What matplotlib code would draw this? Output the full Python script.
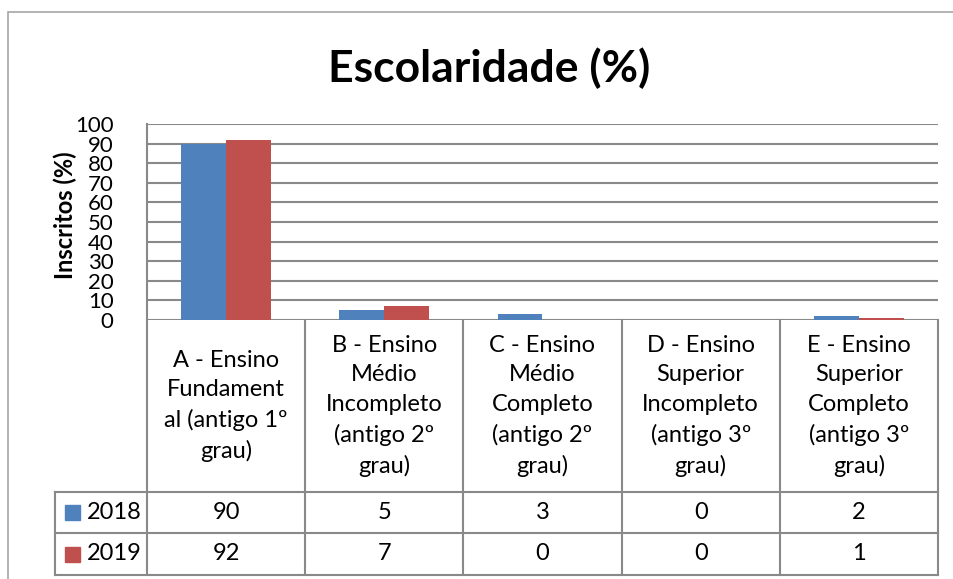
import numpy as np
import matplotlib.pyplot as plt
from matplotlib.patches import Rectangle

plt.rcParams['font.family'] = ['Lato', 'DejaVu Sans']

categorias = ['A - Ensino\nFundament\nal (antigo 1º\ngrau)',
              'B - Ensino\nMédio\nIncompleto\n(antigo 2º\ngrau)',
              'C - Ensino\nMédio\nCompleto\n(antigo 2º\ngrau)',
              'D - Ensino\nSuperior\nIncompleto\n(antigo 3º\ngrau)',
              'E - Ensino\nSuperior\nCompleto\n(antigo 3º\ngrau)']
anos = ['2018', '2019']
v2018 = [90, 5, 3, 0, 2]
v2019 = [92, 7, 0, 0, 1]
cores = ['#4F81BD', '#C0504D']
yticks = list(range(0, 101, 10))

W, H = 954, 579
fig = plt.figure(figsize=(W / 100, H / 100), dpi=100)
cinza = '#898989'

# borda externa do grafico
fig.patches.append(Rectangle((8 / W, -0.01), 1, (H - 12) / H + 0.01, transform=fig.transFigure,
                             fill=False, edgecolor='#a6a6a6', lw=1.2))

# area do grafico (pixels)
L, R, T, B = 147, 938, 124, 320
ax = fig.add_axes([L / W, (H - B) / H, (R - L) / W, (B - T) / H])
x = np.arange(len(categorias))
w = 0.284
ax.bar(x - w / 2, v2018, w, color=cores[0], zorder=3)
ax.bar(x + w / 2, v2019, w, color=cores[1], zorder=3)
ax.set_xlim(-0.5, len(categorias) - 0.5)
ax.set_ylim(0, 100)
ax.set_yticks(yticks)
ax.set_yticklabels([str(t) for t in yticks], fontsize=16)
ax.tick_params(axis='y', length=0, pad=24)
ax.set_xticks([])
ax.grid(axis='y', color=cinza, lw=1.5, zorder=0)
for s in ['top', 'right', 'bottom']:
    ax.spines[s].set_visible(False)
ax.spines['left'].set_color(cinza)
ax.spines['left'].set_linewidth(1.5)

fig.text(65 / W, 1 - 215 / H, 'Inscritos (%)', rotation=90, ha='center', va='center',
         fontsize=17, fontweight='bold')
fig.text(489 / W, 1 - 68 / H, 'Escolaridade (%)', ha='center', va='center',
         fontsize=32, fontweight='bold')

# tabela de dados
TL, TB = 55, 575
cw = (R - L) / len(categorias)
tab = fig.add_axes([TL / W, (H - TB) / H, (R - TL) / W, (TB - B) / H])
tab.set_xlim(-0.5 - (L - TL) / cw, len(categorias) - 0.5)
tab.set_ylim(TB, B)
tab.axis('off')
r1, r2 = 492, 533
xl = -0.5 - (L - TL) / cw
kw = dict(color=cinza, lw=1.5, clip_on=False)
for xb in np.arange(-0.5, len(categorias), 1.0):
    tab.plot([xb, xb], [B, TB], **kw)
tab.plot([xl, xl], [r1, TB], **kw)
tab.plot([xl, len(categorias) - 0.5], [r1, r1], **kw)
tab.plot([xl, len(categorias) - 0.5], [r2, r2], **kw)
tab.plot([xl, len(categorias) - 0.5], [TB, TB], **kw)

for i, c in enumerate(categorias):
    tab.text(i, (B + r1) / 2, c, ha='center', va='center', fontsize=17,
             linespacing=1.5, multialignment='center')

for vals, ano, cor, y0, y1 in [(v2018, anos[0], cores[0], r1, r2), (v2019, anos[1], cores[1], r2, TB)]:
    yc = (y0 + y1) / 2
    for i, v in enumerate(vals):
        tab.text(i, yc, str(v), ha='center', va='center', fontsize=17)
    tab.add_patch(Rectangle((xl + 10 / cw, yc - 7.5), 15 / cw, 15, color=cor, clip_on=False))
    tab.text(xl + 32 / cw, yc, ano, ha='left', va='center', fontsize=17)

fig.savefig('out.png', dpi=100)
